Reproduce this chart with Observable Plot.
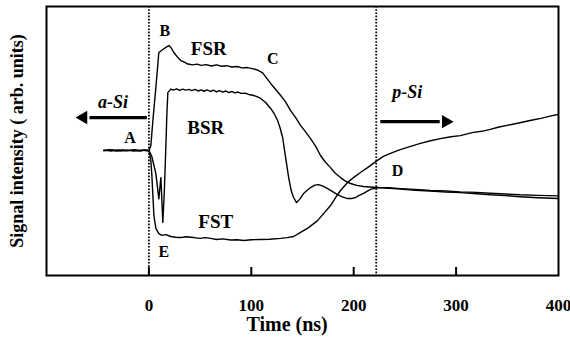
<!DOCTYPE html>
<html>
<head>
<meta charset="utf-8">
<script src="https://cdn.jsdelivr.net/npm/d3@7"></script>
<script src="https://cdn.jsdelivr.net/npm/@observablehq/plot@0.6"></script>
<style>
  html, body { margin: 0; padding: 0; background: #fff; }
  #chart svg { display: block; background: #fff; }
  #chart svg text { font-family: "Liberation Serif", "Times New Roman", Times, serif !important; font-weight: bold; }
</style>
</head>
<body>
<div id="chart"></div>
<script>
// Time axis ticks (ns)
const xTickLabels = [0, 100, 200, 300, 400];
const xTickMarks = [0, 100, 200, 300];
// Dotted boundaries (ns)
const boundaries = [0, 222];

// Series: [time (ns), signal (arb. units)]
const fsr = [
  [-44,46.5],[-38,46.8],[-32,46.3],[-26,46.7],[-20,46.4],[-14,46.8],[-8,46.4],[-3,46.6],[0,46.3],
  [1.9,48.3],[3.9,57.6],[6.8,69.9],[9.7,82.9],[13.6,84.0],[16.6,84.8],[19.5,85.5],[21.4,84.8],
  [24.4,82.9],[28.3,81.0],[31.2,79.9],[35.1,79.2],[38.0,78.6],[42.9,78.3],[47,78.6],[51,78.1],
  [56,78.4],[61,77.9],[66,78.3],[71,77.8],[76,78.0],[81,77.5],[86,77.7],[91,77.2],[96,77.3],
  [101,76.9],[105.3,76.5],[111.1,75.3],[118.9,71.4],[123,69.5],[128.7,66.9],[133,64.8],
  [138.4,61.3],[143,58.9],[148.1,55.8],[153,53.4],[157.9,50.9],[163,47.9],[167.6,44.6],
  [172,42.3],[177.4,40.1],[182,38.0],[187.1,36.4],[192,35.1],[196.9,34.2],[203,33.5],
  [209.6,33.1],[216,32.9],[223.2,32.7],[235,32.6],[245.6,32.3],[260,32.0],[274.9,31.6],
  [290,31.4],[304.1,31.1],[320,30.9],[333.3,30.6],[348,30.3],[362.6,30.0],[380,29.8],[399.6,29.6]
];
const bsr = [
  [-44,46.6],[-37,46.3],[-30,46.7],[-23,46.4],[-16,46.6],[-9,46.3],[-4,46.7],[0,46.5],
  [2.9,44.2],[4.9,40.9],[6.8,37.9],[9.7,28.5],[11.7,36.4],[13.6,19.7],[15.1,31.6],[16.6,48.3],
  [17.5,59.5],[18.5,68.0],[21.4,69.3],[24,68.9],[27,69.4],[30,68.8],[33,69.3],[36,68.9],
  [39,69.2],[42,68.7],[45,69.2],[48,68.6],[51,69.0],[54,68.5],[57,69.0],[60,68.4],[63,68.9],
  [66,68.3],[69,68.7],[72,68.2],[75,68.6],[78,68.0],[81,68.4],[84,67.9],[87,68.2],[90,67.7],
  [94,67.8],[97.5,67.3],[101.4,67.0],[105,66.6],[109.2,65.8],[114,64.3],[118.9,62.1],
  [122,60.4],[125.7,57.6],[128,55.0],[130.6,51.3],[133.5,43.9],[136.5,36.4],[139,31.5],
  [141.3,29.0],[144.2,27.1],[147.2,28.3],[151.1,30.5],[154,31.5],[157.9,32.7],[162,33.6],
  [165.7,33.8],[170,33.2],[174.5,32.3],[179,31.3],[184.2,30.1],[189,29.2],[194,28.6],
  [198,28.6],[201.8,29.0],[205,29.7],[209.6,30.5],[216.4,32.0],[223.2,32.7],[235,32.4],
  [245.6,32.1],[260,31.7],[274.9,31.4],[290,31.0],[304.1,30.8],[320,30.4],[333.3,30.0],
  [348,29.7],[362.6,29.3],[380,28.9],[399.6,28.6]
];
const fst = [
  [-44,46.4],[-36,46.7],[-28,46.3],[-21,46.6],[-15,46.3],[-7,46.6],[-2,46.4],[0,46.5],
  [1.9,42.8],[2.9,37.2],[3.9,29.7],[4.9,22.3],[6.8,17.5],[9.7,15.6],[12.7,14.9],[16.6,15.2],
  [21.4,14.5],[26,14.2],[31.2,14.1],[36,14.4],[43.9,14.1],[50,13.8],[55,14.1],[60.4,13.8],
  [66,13.4],[72,13.6],[79.9,13.2],[86,13.3],[92.6,13.0],[100,13.3],[109.2,13.4],[118,13.5],
  [128.7,13.8],[135,14.1],[141.3,14.5],[148.1,16.0],[155.9,17.8],[164.7,20.4],[170.6,23.0],
  [177.4,26.0],[182,28.8],[187.1,31.6],[194.0,34.6],[199.8,36.4],[206.6,38.3],[213.5,40.1],
  [223.2,42.8],[229,44.3],[235.9,45.4],[244,46.6],[252.4,47.6],[265.1,49.1],[275,50.1],
  [284.6,50.9],[295,51.6],[304.1,52.0],[316.8,53.2],[325,53.6],[333.3,54.3],[342,55.2],
  [349.9,55.8],[360,56.6],[372.3,57.6],[384,58.5],[394.7,59.5],[399.6,59.9]
];

// Annotation labels
const pointLabels = [
  {text: "A", t: -18.5, v: 51.3},
  {text: "B", t: 15.6, v: 91.1},
  {text: "C", t: 120.9, v: 80.7},
  {text: "D", t: 242.7, v: 39.0},
  {text: "E", t: 14.6, v: 8.9}
];
const seriesLabels = [
  {text: "FSR", t: 58.5, v: 84.4},
  {text: "BSR", t: 55.6, v: 55.0},
  {text: "FST", t: 65.3, v: 20.1}
];
const regionLabels = [
  {text: "a-Si", t: -35.1, v: 64.3},
  {text: "p-Si", t: 252.4, v: 68.0}
];
const arrows = [
  {from: -2, to: -64, level: 58.7},
  {from: 226, to: 290, level: 57.2}
];

const serif = "Liberation Serif, Times New Roman, serif";
const W = 570, H = 341, mT = 6, mB = 66, mL = 46, mR = 12;
const frameH = H - mT - mB;

const series = [fsr, bsr, fst];

const chart = Plot.plot({
  width: W, height: H,
  marginLeft: mL, marginRight: mR, marginTop: mT, marginBottom: mB,
  x: {domain: [-100, 400]},
  y: {domain: [0, 100], axis: null},
  style: `font-family: ${serif}; font-weight: bold; background: white; color: black;`,
  marks: [
    ...series.map(s => Plot.line(s, {x: d => d[0], y: d => d[1], stroke: "black", strokeWidth: 1.4})),
    Plot.ruleX(boundaries, {stroke: "black", strokeWidth: 1.8, strokeDasharray: "1.6,1.6"}),
    Plot.ruleX(xTickMarks, {stroke: "black", strokeWidth: 2, insetTop: frameH - 8}),
    Plot.axisX(xTickLabels, {tickSize: 0, tickPadding: 23, fontSize: 17, fontWeight: "bold", fontFamily: serif, tickFormat: d => String(d), label: null}),
    Plot.link(arrows, {x1: "from", x2: d => d.to + Math.sign(d.from - d.to) * 6, y1: "level", y2: "level", stroke: "black", strokeWidth: 3.2}),
    Plot.dot(arrows, {x: "to", y: "level", symbol: "triangle", r: 5, fill: "black", stroke: null,
      rotate: d => d.to < d.from ? -90 : 90}),
    Plot.text(pointLabels, {x: "t", y: "v", text: "text", fontSize: 16, fontWeight: "bold", fontFamily: serif}),
    Plot.text(seriesLabels, {x: "t", y: "v", text: "text", fontSize: 19, fontWeight: "bold", fontFamily: serif}),
    Plot.text(regionLabels, {x: "t", y: "v", text: "text", fontSize: 18, fontWeight: "bold", fontStyle: "italic", fontFamily: serif}),
    Plot.text(["Time (ns)"], {x: 135, frameAnchor: "bottom", dy: 49, lineAnchor: "middle", textAnchor: "middle", fontSize: 20, fontWeight: "bold", fontFamily: serif}),
    Plot.text(["Signal intensity ( arb. units)"], {frameAnchor: "left", dx: -29, rotate: -90, textAnchor: "middle", lineAnchor: "middle", fontSize: 18, fontWeight: "bold", fontFamily: serif}),
    Plot.frame({stroke: "black", strokeWidth: 2})
  ]
});
document.getElementById("chart").appendChild(chart);
</script>
</body>
</html>
